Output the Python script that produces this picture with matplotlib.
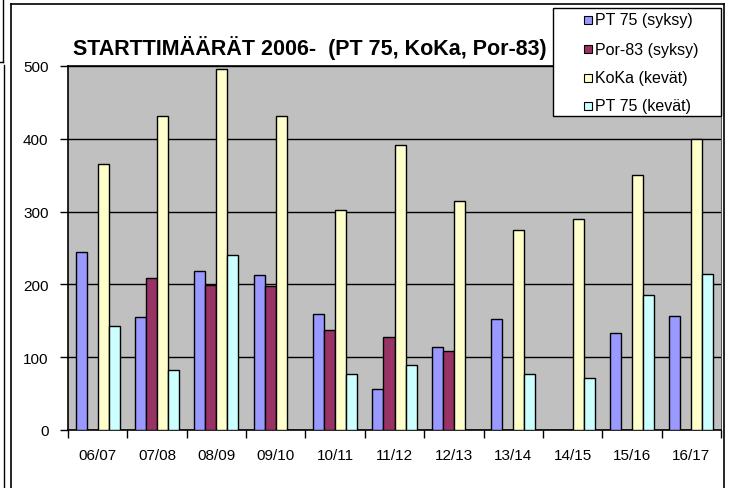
import numpy as np
import matplotlib
matplotlib.use('Agg')
import matplotlib.pyplot as plt
from matplotlib.lines import Line2D
from matplotlib.patches import Rectangle

#----Data----
seasons = ['06/07', '07/08', '08/09', '09/10', '10/11', '11/12',
           '12/13', '13/14', '14/15', '15/16', '16/17']
pt75_syksy = [244, 155, 219, 213, 160, 56, 114, 152, 0, 133, 156]
por83_syksy = [0, 209, 199, 198, 137, 128, 108, 0, 0, 0, 0]
koka_kevat = [365, 432, 496, 432, 302, 392, 315, 275, 290, 350, 400]
pt75_kevat = [143, 83, 240, 0, 77, 89, 0, 77, 71, 186, 214]

series_names = ['PT 75 (syksy)', 'Por-83 (syksy)', 'KoKa (kevät)', 'PT 75 (kevät)']
series_colors = ['#9999FF', '#993366', '#FFFFCC', '#CCFFFF']
series = [pt75_syksy, por83_syksy, koka_kevat, pt75_kevat]

plt.rcParams['font.family'] = ['Liberation Sans', 'DejaVu Sans']

W, H = 731, 489
fig = plt.figure(figsize=(W/100, H/100), dpi=100)
ax = fig.add_axes([68/W, 1-431/H, (721-68)/W, (431-67)/H])
ax.set_facecolor('#C0C0C0')

x = np.arange(len(seasons))
w = 0.186
for i, (vals, col, name) in enumerate(zip(series, series_colors, series_names)):
    ax.bar(x + (i - 1.5) * w, vals, width=w, color=col, edgecolor='black',
           linewidth=1, label=name, zorder=3)

ax.set_xlim(-0.5, len(seasons) - 0.5)
ax.set_ylim(0, 500)
ax.set_yticks(range(0, 501, 100))
ax.yaxis.grid(True, color='black', linewidth=1, zorder=1)
ax.set_axisbelow(True)

#----category labels between boundary ticks----
ax.set_xticks(np.arange(-0.5, len(seasons)), minor=False)
ax.set_xticklabels([])
ax.set_xticks(x, minor=True)
ax.set_xticklabels(seasons, minor=True)
ax.tick_params(axis='x', which='major', direction='out', length=6, width=1)
ax.tick_params(axis='x', which='minor', length=0, pad=13, labelsize=11)
ax.tick_params(axis='y', direction='out', length=6, width=1, pad=8, labelsize=11)

for s in ['left', 'bottom', 'top']:
    ax.spines[s].set_linewidth(1.2)
ax.spines['right'].set_linewidth(0.8)
ax.spines['right'].set_color('#555555')

fig.text(310/W, 1-48/H, 'STARTTIMÄÄRÄT 2006-  (PT 75, KoKa, Por-83)',
         ha='center', va='center', fontsize=15.5, fontweight='bold')

#----legend drawn by hand to match the Excel box----
fig.add_artist(Rectangle((553/W, 1-117/H), (721-553)/W, (117-9)/H,
                         facecolor='white', edgecolor='black', lw=1, zorder=10))
row_y = [21, 50, 79, 107]
for name, col, yy in zip(series_names, series_colors, row_y):
    fig.add_artist(Rectangle((584/W, 1-(yy+4)/H), 8/W, 8/H, facecolor=col,
                             edgecolor='black', lw=0.8, zorder=11))
    fig.text(595/W, 1-yy/H, name, ha='left', va='center', fontsize=11.5,
             zorder=12)

#----chart frame and neighbouring element edges----
fig.add_artist(Line2D([11/W, 11/W], [0, 1-5/H], color='black', lw=1.2))
fig.add_artist(Line2D([11/W, 724/W], [1-5/H, 1-5/H], color='black', lw=1.2))
fig.add_artist(Line2D([724/W, 724/W], [0, 1-5/H], color='black', lw=1.2))
fig.add_artist(Line2D([2.5/W, 2.5/W], [1-63/H, 1], color='black', lw=1))
fig.add_artist(Line2D([0, 2.5/W], [1-63/H, 1-63/H], color='black', lw=1))
fig.add_artist(Line2D([3.5/W, 3.5/W], [0, 1-66/H], color='black', lw=1))

fig.savefig('out.png', dpi=100)
